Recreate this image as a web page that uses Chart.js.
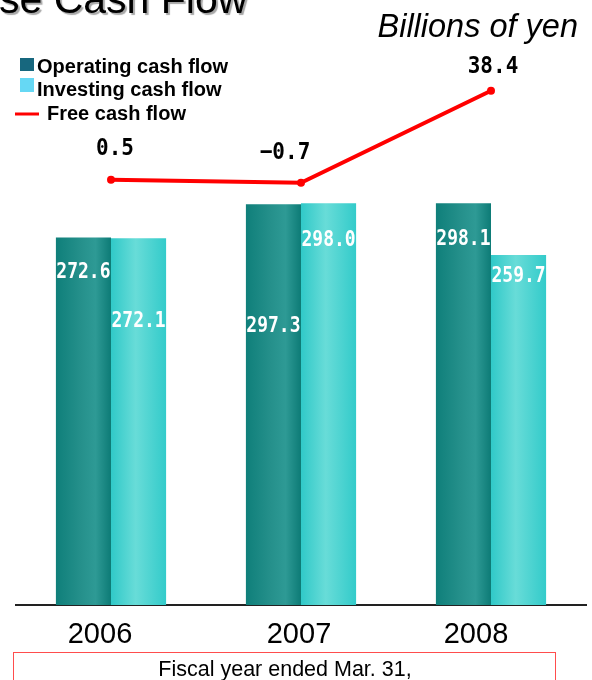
<!DOCTYPE html>
<html>
<head>
<meta charset="utf-8">
<script src="https://cdn.jsdelivr.net/npm/chart.js@4.4.1/dist/chart.umd.min.js"></script>
<style>
  html, body { margin: 0; padding: 0; background: #fff; }
  #wrap { position: relative; width: 592px; height: 680px; overflow: hidden; }
</style>
</head>
<body>
<div id="wrap"><canvas id="c" width="592" height="680"></canvas></div>
<script>
// Fiscal years and cash-flow figures (billions of yen)
const years = ['2006', '2007', '2008'];
const operatingCF = [272.6, 297.3, 298.1];
const investingCF = [272.1, 298.0, 259.7];
const freeCF = [0.5, -0.7, 38.4];

const SANS = '"Liberation Sans", Arial, sans-serif';
const NUM = '"DejaVu Sans Mono", monospace';
const CAT_PCT = 0.58;

const legendColors = ['#17677e', '#66d8f4', '#ff0000'];
const opStops = [[0, '#0f7f7a'], [0.45, '#25908b'], [0.72, '#2e9a95'], [1, '#0d7b76']];
const invStops = [[0, '#30c9c8'], [0.45, '#68dcd8'], [1, '#33cbca']];

// label placement: bar labels sit this far below the bar top,
// line labels are shifted by [dx, dy] from their point,
// year labels are nudged sideways from the category centre
const barLabelDrop = [[35, 122, 36], [83, 37, 21]];
const lineLabelShift = [[4, -31], [-16, -30], [2, -24]];
const yearLabelShift = [-11, -2, -15];

function barGradient(ctx, stops, side) {
  const chart = ctx.chart;
  const xs = chart.scales && chart.scales.x;
  if (!xs || ctx.type !== 'data') return stops[0][1];
  const c = xs.getPixelForValue(ctx.dataIndex);
  const w = xs.width / years.length * CAT_PCT / 2;
  if (!isFinite(c) || !isFinite(w) || w <= 0) return stops[0][1];
  const x0 = side < 0 ? c - w : c;
  const g = chart.ctx.createLinearGradient(x0, 0, x0 + w, 0);
  stops.forEach(([o, col]) => g.addColorStop(o, col));
  return g;
}

const fmt = v => (v < 0 ? '\u2212' : '') + Math.abs(v).toFixed(1);

function drawNum(ctx, text, x, y, color, size, stretch) {
  ctx.save();
  ctx.font = 'bold ' + size + 'px ' + NUM;
  ctx.fillStyle = color;
  ctx.textAlign = 'center';
  ctx.textBaseline = 'middle';
  ctx.translate(x, y);
  ctx.scale(1, stretch);
  ctx.fillText(text, 0, 0);
  ctx.restore();
}

const valueLabels = {
  id: 'valueLabels',
  afterDatasetsDraw(chart) {
    const ctx = chart.ctx;
    [0, 1].forEach(di => {
      const meta = chart.getDatasetMeta(di);
      const vals = chart.data.datasets[di].data;
      meta.data.forEach((el, i) => {
        drawNum(ctx, fmt(vals[i]), el.x, el.y + barLabelDrop[di][i], '#ffffff', 18, 1.2);
      });
    });
    const lm = chart.getDatasetMeta(2);
    const lv = chart.data.datasets[2].data;
    lm.data.forEach((pt, i) => {
      drawNum(ctx, fmt(lv[i]), pt.x + lineLabelShift[i][0], pt.y + lineLabelShift[i][1], '#000000', 21, 1.12);
    });
  }
};

// category labels under the axis, taken from the x scale
const yearLabels = {
  id: 'yearLabels',
  afterDraw(chart) {
    const xs = chart.scales.x;
    const ctx = chart.ctx;
    ctx.save();
    ctx.font = '29px ' + SANS;
    ctx.fillStyle = '#000';
    ctx.textAlign = 'center';
    ctx.textBaseline = 'alphabetic';
    xs.getLabels().forEach((lab, i) => {
      ctx.fillText(lab, xs.getPixelForValue(i) + yearLabelShift[i], 643);
    });
    ctx.restore();
  }
};

const pageText = {
  id: 'pageText',
  afterDraw(chart) {
    const ctx = chart.ctx;
    ctx.save();
    // heading
    ctx.font = '41px ' + SANS;
    ctx.textAlign = 'left';
    ctx.textBaseline = 'alphabetic';
    ctx.shadowColor = 'rgba(0,0,0,0.35)';
    ctx.shadowOffsetX = 2;
    ctx.shadowOffsetY = 2;
    ctx.shadowBlur = 1;
    ctx.fillStyle = '#000';
    ctx.fillText('se Cash Flow', -1, 13);
    ctx.restore();

    ctx.save();
    ctx.font = 'italic 32.5px ' + SANS;
    ctx.textAlign = 'right';
    ctx.fillStyle = '#000';
    ctx.fillText('Billions of yen', 578, 37);

    // legend
    const ds = chart.data.datasets;
    ctx.font = 'bold 20px ' + SANS;
    ctx.textAlign = 'left';
    ctx.fillStyle = legendColors[0];
    ctx.fillRect(20, 58, 14, 13);
    ctx.fillStyle = '#000';
    ctx.fillText(ds[0].label, 37, 73);
    ctx.fillStyle = legendColors[1];
    ctx.fillRect(20, 78, 14, 14);
    ctx.fillStyle = '#000';
    ctx.fillText(ds[1].label, 37, 96);
    ctx.fillStyle = legendColors[2];
    ctx.fillRect(15, 112.5, 24, 3);
    ctx.fillStyle = '#000';
    ctx.fillText(ds[2].label, 47, 120);

    // footnote box
    ctx.strokeStyle = '#ff4d4d';
    ctx.lineWidth = 1;
    ctx.strokeRect(13.5, 652.5, 542, 40);
    ctx.font = '21.5px ' + SANS;
    ctx.textAlign = 'center';
    ctx.fillStyle = '#000';
    ctx.fillText('Fiscal year ended Mar. 31,', 285, 676);
    ctx.restore();
  }
};

new Chart(document.getElementById('c'), {
  data: {
    labels: years,
    datasets: [
      {
        type: 'bar', label: 'Operating cash flow', data: operatingCF,
        yAxisID: 'y', order: 2,
        backgroundColor: ctx => barGradient(ctx, opStops, -1),
        borderWidth: 0, barPercentage: 1, categoryPercentage: CAT_PCT
      },
      {
        type: 'bar', label: 'Investing cash flow', data: investingCF,
        yAxisID: 'y', order: 2,
        backgroundColor: ctx => barGradient(ctx, invStops, 1),
        borderWidth: 0, barPercentage: 1, categoryPercentage: CAT_PCT
      },
      {
        type: 'line', label: 'Free cash flow', data: freeCF,
        yAxisID: 'y2', order: 1,
        borderColor: '#ff0000', borderWidth: 4, tension: 0,
        pointRadius: 4, pointBackgroundColor: '#ff0000', pointBorderWidth: 0
      }
    ]
  },
  options: {
    responsive: false,
    animation: false,
    layout: { padding: { left: 16, right: 6, top: 60, bottom: 30 } },
    plugins: { legend: { display: false }, tooltip: { enabled: false } },
    scales: {
      x: {
        grid: { display: false, drawTicks: false },
        border: { display: true, color: '#222', width: 2 },
        ticks: { display: false },
        afterFit(s) { s.height = 45; }
      },
      y: { display: false, min: 0, max: 404.3 },
      y2: { display: false, min: -180.4, max: 51.5 }
    }
  },
  plugins: [valueLabels, yearLabels, pageText]
});
</script>
</body>
</html>
